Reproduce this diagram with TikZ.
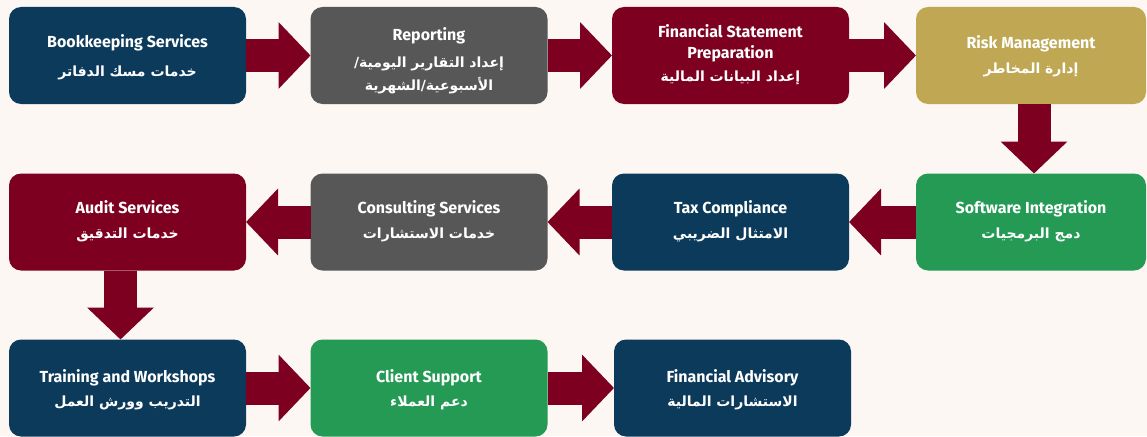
\documentclass[tikz,border=0pt]{standalone}
\usepackage{fontspec}
\setmainfont{Fira Sans}
\newfontfamily\arfont[Script=Arabic]{DejaVu Sans}
\TeXXeTstate=1
\usetikzlibrary{arrows.meta,calc}
\definecolor{bgc}{HTML}{FCF7F2}
\definecolor{navy}{HTML}{0C3A5B}
\definecolor{greyb}{HTML}{575757}
\definecolor{maroon}{HTML}{7D0020}
\definecolor{gold}{HTML}{BFA754}
\definecolor{greenb}{HTML}{249A55}
\newcommand{\ar}[1]{{\arfont\bfseries\fontsize{14}{17}\selectfont\beginR #1\endR}}
\tikzset{
  box/.style={rectangle, rounded corners=12pt, minimum width=237pt, minimum height=97pt,
    inner sep=0pt, outer sep=0pt},
  txt/.style={inner sep=0pt, text=white, align=center,
    font=\bfseries\fontsize{16}{19}\selectfont},
  flow/.style={draw=maroon, line width=33pt, -{Triangle[length=32pt,width=65pt]}}
}
\begin{document}
\begin{tikzpicture}[x=1pt,y=-1pt]
\useasboundingbox (0,0) rectangle (1147,436);
\fill[bgc] (0,0) rectangle (1147,436);
\begin{scope}
\clip (0,0) rectangle (1147,436);
% Boxes
\node[box, fill=navy] (b1) at (127.5,55.5) {};
\node[box, fill=greyb] (b2) at (429,55.5) {};
\node[box, fill=maroon] (b3) at (730.5,55.5) {};
\node[box, fill=gold, minimum width=230pt] (b4) at (1031,55.5) {};
\node[box, fill=greenb, minimum width=230pt] (b5) at (1031,222) {};
\node[box, fill=navy] (b6) at (730.5,222) {};
\node[box, fill=greyb] (b7) at (429,222) {};
\node[box, fill=maroon] (b8) at (127.5,222) {};
\node[box, fill=navy] (b9) at (127.5,388) {};
\node[box, fill=greenb] (b10) at (429,388) {};
\node[box, fill=navy] (b11) at (732.5,388) {};
% Texts
\node[txt] (t1) at ($(b1)+(0,1.5)$) {Bookkeeping Services\\[10pt]\ar{خدمات مسك الدفاتر}};
\node[txt] (t2) at ($(b2)+(0,5.5)$) {Reporting\\[8pt]\ar{إعداد التقارير اليومية/}\\[4pt]\ar{الأسبوعية/الشهرية}};
\node[txt] (t3) at ($(b3)+(0,-0.5)$) {Financial Statement\\[2pt]Preparation\\[4pt]\ar{إعداد البيانات المالية}};
\node[txt] (t4) at ($(b4)+(0,0.5)$) {Risk Management\\[6pt]\ar{إدارة المخاطر}};
\node[txt] (t5) at ($(b5)+(0,-1)$) {Software Integration\\[6pt]\ar{دمج البرمجيات}};
\node[txt] (t6) at ($(b6)+(0,-1)$) {Tax Compliance\\[6pt]\ar{الامتثال الضريبي}};
\node[txt] (t7) at ($(b7)+(0,-1)$) {Consulting Services\\[6pt]\ar{خدمات الاستشارات}};
\node[txt] (t8) at ($(b8)+(0,-1)$) {Audit Services\\[6pt]\ar{خدمات التدقيق}};
\node[txt] (t9) at ($(b9)+(0,2)$) {Training and Workshops\\[5pt]\ar{التدريب وورش العمل}};
\node[txt] (t10) at ($(b10)+(0,2)$) {Client Support\\[5pt]\ar{دعم العملاء}};
\node[txt] (t11) at ($(b11)+(0,2)$) {Financial Advisory\\[5pt]\ar{الاستشارات المالية}};
% Arrows
\draw[flow] (b1.east) -- (b2.west);
\draw[flow] (b2.east) -- (b3.west);
\draw[flow] (b3.east) -- (b4.west);
\draw[flow] ($(b4.south)+(3,0)$) -- ($(b5.north)+(3,0)$);
\draw[flow] (b5.west) -- (b6.east);
\draw[flow] (b6.west) -- (b7.east);
\draw[flow] (b7.west) -- (b8.east);
\draw[flow] ($(b8.south)+(-7,0)$) -- ($(b9.north)+(-7,0)$);
\draw[flow] (b9.east) -- (b10.west);
\draw[flow] (b10.east) -- (b11.west);
\end{scope}
\end{tikzpicture}
\end{document}
